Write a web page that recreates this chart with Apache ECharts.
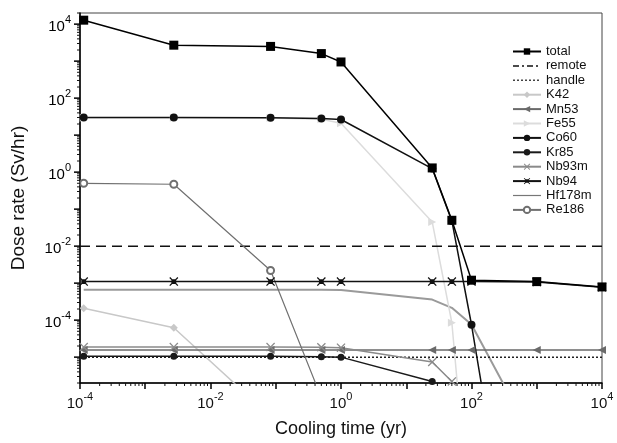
<!DOCTYPE html>
<html>
<head>
<meta charset="utf-8">
<script src="https://cdn.jsdelivr.net/npm/echarts@6/dist/echarts.min.js"></script>
<style>html,body{margin:0;padding:0;background:#fff}#c{width:617px;height:443px}</style>
</head>
<body>
<div id="c"></div>
<script>
// Cooling times (yr)
const times = [1.14e-4, 2.74e-3, 0.0833, 0.5, 1, 25, 50, 100, 1000, 10000];
// Dose rates (Sv/hr), one value per time (series stop where they leave the plot)
const total  = [1.28e4, 2.7e3, 2.5e3, 1.6e3, 9.5e2, 1.3, 0.05, 1.2e-3, 1.1e-3, 7.9e-4];
const remoteX = [1e-4, 1e4];
const remoteY = [1e-2, 1e-2];
const handleX = [1e-4, 1e4];
const handleY = [1e-5, 1e-5];
const k42    = [2.1e-4, 6.2e-5, 2.5e-7];
const mn53   = [1.55e-5, 1.55e-5, 1.55e-5, 1.55e-5, 1.55e-5, 1.55e-5, 1.55e-5, 1.55e-5, 1.55e-5, 1.55e-5];
const fe55   = [29.5, 29.5, 29, 27, 21, 0.045, 8.5e-5, 1e-10];
const co60   = [30, 30, 29.5, 28, 26.5, 1.25, 0.048, 7.5e-5, 2e-15];
const kr85   = [1.05e-5, 1.05e-5, 1.05e-5, 1.02e-5, 1e-5, 2.2e-6, 4.4e-7];
const nb93m  = [1.87e-5, 1.87e-5, 1.87e-5, 1.85e-5, 1.8e-5, 7.4e-6, 2.2e-6, 2.5e-7];
const nb94   = [1.1e-3, 1.1e-3, 1.1e-3, 1.1e-3, 1.1e-3, 1.1e-3, 1.1e-3, 1.1e-3, 1.07e-3, 7.8e-4];
const hf178m = [6.6e-4, 6.6e-4, 6.6e-4, 6.6e-4, 6.5e-4, 3.6e-4, 2.15e-4, 7.6e-5, 4e-8];
const re186  = [0.5, 0.47, 2.2e-3, 8e-7];
const legendNames = ['total','remote','handle','K42','Mn53','Fe55','Co60','Kr85','Nb93m','Nb94','Hf178m','Re186'];
// y-axis decades (major ticks) ; labels on even exponents
const yDecades = [-5, -4, -3, -2, -1, 0, 1, 2, 3, 4];

const XMIN = 1e-4, XMAX = 1e4, YMIN = 2e-6, YMAX = 2e4;
const FONT = 'Liberation Sans, Arial, sans-serif';

function pairs(vals){ return vals.map((v,i)=>[times[i], v]); }
function zip(xs, ys){ return xs.map((x,i)=>[x, ys[i]]); }

const X_PATH = 'path://M0,1L1,0L5,4L9,0L10,1L6,5L10,9L9,10L5,6L1,10L0,9L4,5Z';
const NB94_PATH = 'path://M0,1L1,0L5,4L9,0L10,1L6,5L10,9L9,10L5,6L1,10L0,9L4,5Z M2.3,2.3L7.7,2.3L7.7,7.7L2.3,7.7Z';

function fmt(v){
  const l = Math.log10(v);
  const e = Math.round(l);
  if (Math.abs(l - e) > 1e-6 || e % 2 !== 0) return '';
  return '{b|10}{s|' + e + '}';
}
const richLbl = {
  b: {fontSize: 15, fontFamily: FONT, color: '#111', lineHeight: 20, verticalAlign: 'bottom'},
  s: {fontSize: 11, fontFamily: FONT, color: '#111', lineHeight: 20, verticalAlign: 'top'}
};

// minor tick values
const xMinor = [], yMinor = [];
for (let e = -4; e < 4; e++) for (let k = 2; k <= 9; k++) xMinor.push(k * Math.pow(10, e));
for (let e = -6; e < 5; e++) for (let k = 2; k <= 9; k++) { const v = k * Math.pow(10, e); if (v >= YMIN && v <= YMAX) yMinor.push(v); }

function line(name, data, color, width, symbol, size, extra){
  return Object.assign({
    name, type: 'line', data, symbol, symbolSize: size,
    showSymbol: symbol !== 'none',
    lineStyle: {color, width}, itemStyle: {color},
    emphasis: {disabled: true}, animation: false, clip: true, z: 3
  }, extra || {});
}

const series = [
  line('Hf178m', pairs(hf178m), '#9a9a9a', 2, 'none', 0),
  line('Fe55', pairs(fe55), '#dcdcdc', 1.5, 'triangle', 8, {symbolRotate: -90}),
  line('K42', pairs(k42), '#c8c8c8', 1.5, 'diamond', 8),
  line('handle', zip(handleX, handleY), '#222', 1.5, 'none', 0, {lineStyle: {color: '#222', width: 1.5, type: [2, 2]}}),
  line('remote', zip(remoteX, remoteY), '#111', 1.5, 'none', 0, {lineStyle: {color: '#111', width: 1.5, type: [10, 6]}}),
  line('Mn53', pairs(mn53), '#6a6a6a', 1.5, 'triangle', 8, {symbolRotate: 90}),
  line('Nb93m', pairs(nb93m), '#8a8a8a', 1.5, X_PATH, 9),
  line('Kr85', pairs(kr85), '#1a1a1a', 1.5, 'circle', 7),
  line('Re186', pairs(re186), '#707070', 1.2, 'emptyCircle', 7, {itemStyle: {color: '#707070', borderColor: '#555', borderWidth: 1}}),
  line('Co60', pairs(co60), '#111', 1.5, 'circle', 8),
  line('Nb94', pairs(nb94), '#111', 1.5, NB94_PATH, 9),
  line('total', pairs(total), '#000', 1.5, 'rect', 9),
  {
    type: 'custom', name: 'xminor', silent: true, animation: false, z: 5,
    data: xMinor.map(v => [v, YMIN]),
    renderItem(params, api){
      const p = api.coord([api.value(0), YMIN]);
      return {type: 'line', shape: {x1: p[0], y1: p[1], x2: p[0], y2: p[1] + 3}, style: {stroke: '#111', lineWidth: 1}};
    }
  },
  {
    type: 'custom', name: 'yminor', silent: true, animation: false, z: 5,
    data: yMinor.map(v => [XMIN, v]),
    renderItem(params, api){
      const p = api.coord([XMIN, api.value(1)]);
      return {type: 'line', shape: {x1: p[0] - 3, y1: p[1], x2: p[0], y2: p[1]}, style: {stroke: '#111', lineWidth: 1}};
    }
  },
  {
    type: 'custom', name: 'ymajor', silent: true, animation: false, z: 5,
    data: yDecades.map(e => [XMIN, Math.pow(10, e), e]),
    renderItem(params, api){
      const e = api.value(2);
      const p = api.coord([XMIN, api.value(1)]);
      const children = [{type: 'line', shape: {x1: p[0] - 6, y1: p[1], x2: p[0], y2: p[1]}, style: {stroke: '#000', lineWidth: 1.5}}];
      if (e % 2 === 0) {
        children.push({type: 'text', x: p[0] - 9, y: p[1],
          style: {text: '{b|10}{s|' + e + '}', rich: richLbl, align: 'right', verticalAlign: 'middle'}});
      }
      return {type: 'group', children};
    }
  }
];

const plainItem = (name, ls) => ({name, itemStyle: {opacity: 0}, lineStyle: ls});
const legendData = legendNames.map(n => {
  if (n === 'remote') return plainItem(n, {type: [6, 3, 2, 3], color: '#111', width: 1.5});
  if (n === 'handle') return plainItem(n, {type: [2, 2], color: '#444', width: 1.5});
  if (n === 'Hf178m') return plainItem(n, {color: '#777', width: 1.2});
  return {name: n};
});

const chart = echarts.init(document.getElementById('c'), null, {renderer: 'canvas'});
chart.setOption({
  backgroundColor: '#fff',
  animation: false,
  grid: {left: 80, right: 15, top: 13, bottom: 60, show: true, borderColor: '#444', borderWidth: 1, backgroundColor: 'transparent'},
  legend: {
    data: legendData, orient: 'vertical', left: 507, top: 40,
    itemWidth: 28, itemHeight: 8, itemGap: 1.4,
    textStyle: {fontSize: 13, fontFamily: FONT, color: '#111', lineHeight: 13},
    selectedMode: false
  },
  xAxis: {
    type: 'log', logBase: 10, min: XMIN, max: XMAX, interval: 1,
    name: 'Cooling time (yr)', nameLocation: 'middle', nameGap: 37,
    nameTextStyle: {fontSize: 18, fontFamily: FONT, color: '#111'},
    axisLine: {lineStyle: {color: '#000', width: 1.5}},
    axisTick: {show: true, length: 6, inside: false, lineStyle: {color: '#000', width: 1.5}},
    axisLabel: {formatter: fmt, rich: richLbl, margin: 8, showMinLabel: true, showMaxLabel: true, hideOverlap: false},
    splitLine: {show: false}
  },
  yAxis: {
    type: 'log', logBase: 10, min: YMIN, max: YMAX,
    name: 'Dose rate (Sv/hr)', nameLocation: 'middle', nameGap: 52, nameRotate: 90,
    nameTextStyle: {fontSize: 19, fontFamily: FONT, color: '#111'},
    axisLine: {lineStyle: {color: '#000', width: 1.5}},
    axisTick: {show: false},
    axisLabel: {show: false},
    splitLine: {show: false}
  },
  series
});
</script>
</body>
</html>
